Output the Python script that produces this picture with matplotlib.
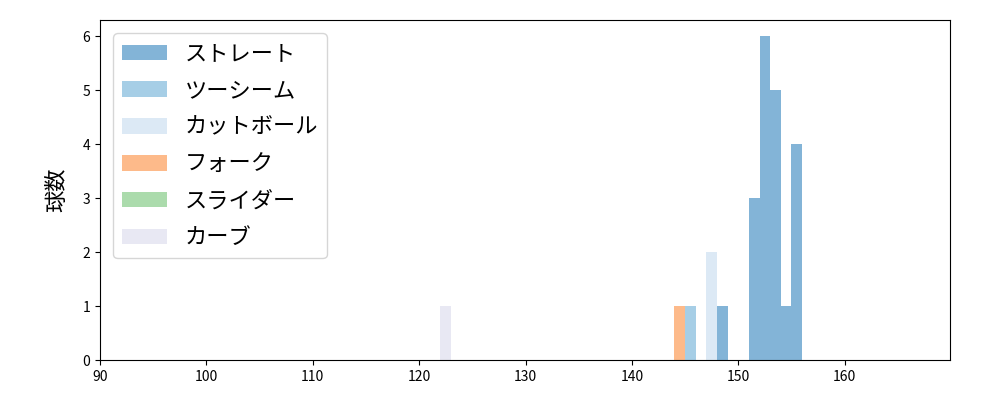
import numpy as np
import matplotlib.pyplot as plt
from matplotlib.patches import Patch

plt.rcParams['font.family'] = ['Noto Sans CJK JP', 'DejaVu Sans']

# 球種ごとの球速分布 (左端の球速, 球数)
pitch_names = ['ストレート', 'ツーシーム', 'カットボール', 'フォーク', 'スライダー', 'カーブ']
colors = ['#3182bd', '#6baed6', '#c6dbef', '#fd8d3c', '#74c476', '#dadaeb']

straight_speed = [148, 151, 152, 153, 154, 155]
straight_count = [1, 3, 6, 5, 1, 4]
twoseam_speed = [145]
twoseam_count = [1]
cutball_speed = [147]
cutball_count = [2]
fork_speed = [144]
fork_count = [1]
slider_speed = []
slider_count = []
curve_speed = [122]
curve_count = [1]

speeds = [straight_speed, twoseam_speed, cutball_speed, fork_speed, slider_speed, curve_speed]
counts = [straight_count, twoseam_count, cutball_count, fork_count, slider_count, curve_count]

fig = plt.figure(figsize=(10, 4), dpi=100)
ax = fig.add_axes([0.1, 0.1, 0.85, 0.85])

handles = []
for name, c, s, n in zip(pitch_names, colors, speeds, counts):
    ax.bar(s, n, width=1.0, align='edge', color=c, alpha=0.6)
    handles.append(Patch(facecolor=c, alpha=0.6, label=name))

ax.set_xlim(90, 169.9)
ax.set_ylim(0, 6.3)
ax.set_ylabel('球数', fontsize=16, labelpad=10)
ax.legend(handles=handles, loc='upper left', fontsize=16, labelspacing=0.62,
          borderaxespad=0.6)

plt.savefig('out.png')
